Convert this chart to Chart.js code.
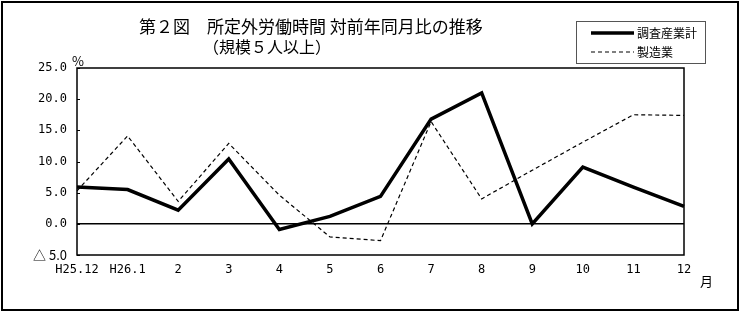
<!DOCTYPE html>
<html>
<head>
<meta charset="utf-8">
<script src="https://cdn.jsdelivr.net/npm/chart.js@4"></script>
<style>
  body { margin: 0; background: #fff; }
  #wrap { width: 740px; height: 312px; }
</style>
</head>
<body>
<div id="wrap"><canvas id="testChart" width="740" height="312"></canvas></div>
<script>
const months = ['H25.12', 'H26.1', '2', '3', '4', '5', '6', '7', '8', '9', '10', '11', '12'];
const allIndustries = [5.9, 5.5, 2.2, 10.4, -0.9, 1.2, 4.4, 16.8, 21.0, 0.0, 9.1, 5.9, 2.8];
const manufacturing = [5.3, 14.1, 3.6, 12.9, 4.6, -2.1, -2.7, 16.4, 4.0, 8.6, 13.1, 17.5, 17.4];
const seriesNames = ['調査産業計', '製造業'];
const titleLines = ['第２図　所定外労働時間 対前年同月比の推移', '（規模５人以上）'];

const jpFont = '"Noto Sans CJK JP", "DejaVu Sans", sans-serif';
const numFont = '"DejaVu Sans Mono", monospace';

// frame, title, legend box, unit labels, inner ticks
const decorations = {
  id: 'decorations',
  afterDraw(chart) {
    const ctx = chart.ctx;
    const area = chart.chartArea;
    const y = chart.scales.y;
    ctx.save();
    ctx.strokeStyle = '#000';

    // outer frame
    ctx.lineWidth = 2;
    ctx.strokeRect(2, 2, 736, 308);

    // plot frame
    ctx.lineWidth = 1.5;
    ctx.strokeRect(area.left, area.top, area.right - area.left, area.bottom - area.top);

    // short ticks inside the y axis
    ctx.lineWidth = 1;
    y.ticks.forEach(t => {
      const py = Math.round(y.getPixelForValue(t.value)) + 0.5;
      ctx.beginPath();
      ctx.moveTo(area.left, py);
      ctx.lineTo(area.left + 3, py);
      ctx.stroke();
    });

    // title
    ctx.fillStyle = '#000';
    ctx.textBaseline = 'middle';
    ctx.textAlign = 'left';
    ctx.font = '17px ' + jpFont;
    ctx.fillText(titleLines[0], 139, 27);
    ctx.font = '16px ' + jpFont;
    ctx.fillText(titleLines[1], 203, 47);

    // units
    ctx.font = '13px ' + jpFont;
    ctx.fillText('%', 72, 61);
    ctx.fillText('月', 700, 281);

    // legend
    ctx.lineWidth = 1;
    ctx.strokeStyle = '#555';
    ctx.strokeRect(576.5, 21.5, 129, 42);
    chart.data.datasets.forEach((ds, i) => {
      const ly = 33 + i * 19;
      ctx.strokeStyle = '#000';
      ctx.lineWidth = ds.borderWidth;
      ctx.setLineDash(ds.borderDash || []);
      ctx.beginPath();
      ctx.moveTo(591, ly);
      ctx.lineTo(634, ly);
      ctx.stroke();
      ctx.setLineDash([]);
      ctx.font = '12px ' + jpFont;
      ctx.fillText(ds.label, 637, ly);
    });
    ctx.restore();
  }
};

const data = {
  labels: months,
  datasets: [
    {
      label: seriesNames[0],
      data: allIndustries,
      borderColor: '#000',
      borderWidth: 3.5,
      pointRadius: 0,
      tension: 0,
    },
    {
      label: seriesNames[1],
      data: manufacturing,
      borderColor: '#000',
      borderWidth: 1.2,
      borderDash: [4, 3],
      pointRadius: 0,
      tension: 0,
    },
  ],
};

const config = {
  type: 'line',
  data: data,
  options: {
    responsive: false,
    animation: false,
    layout: { padding: { left: 0, right: 56, top: 68, bottom: 0 } },
    plugins: { legend: { display: false }, tooltip: { enabled: false } },
    scales: {
      x: {
        offset: false,
        grid: { display: false, drawTicks: false },
        border: { display: false },
        ticks: { color: '#000', font: { family: numFont, size: 12 }, padding: 8, maxRotation: 0, autoSkip: false },
        afterFit: s => { s.height = 57; },
      },
      y: {
        min: -5,
        max: 25,
        grid: {
          drawTicks: false,
          lineWidth: 1.5,
          color: c => (c.tick && c.tick.value === 0 ? '#000' : 'rgba(0,0,0,0)'),
        },
        border: { display: false },
        ticks: {
          stepSize: 5,
          color: '#000',
          padding: 10,
          font: c => (c.tick && c.tick.value < 0
            ? { family: jpFont, size: 13 }
            : { family: numFont, size: 12 }),
          callback: v => (v < 0 ? '△ ' + Math.abs(v).toFixed(1) : v.toFixed(1)),
        },
        afterFit: s => { s.width = 77; },
      },
    },
  },
  plugins: [decorations],
};

const myChart = new Chart(document.getElementById('testChart'), config);
</script>
</body>
</html>
